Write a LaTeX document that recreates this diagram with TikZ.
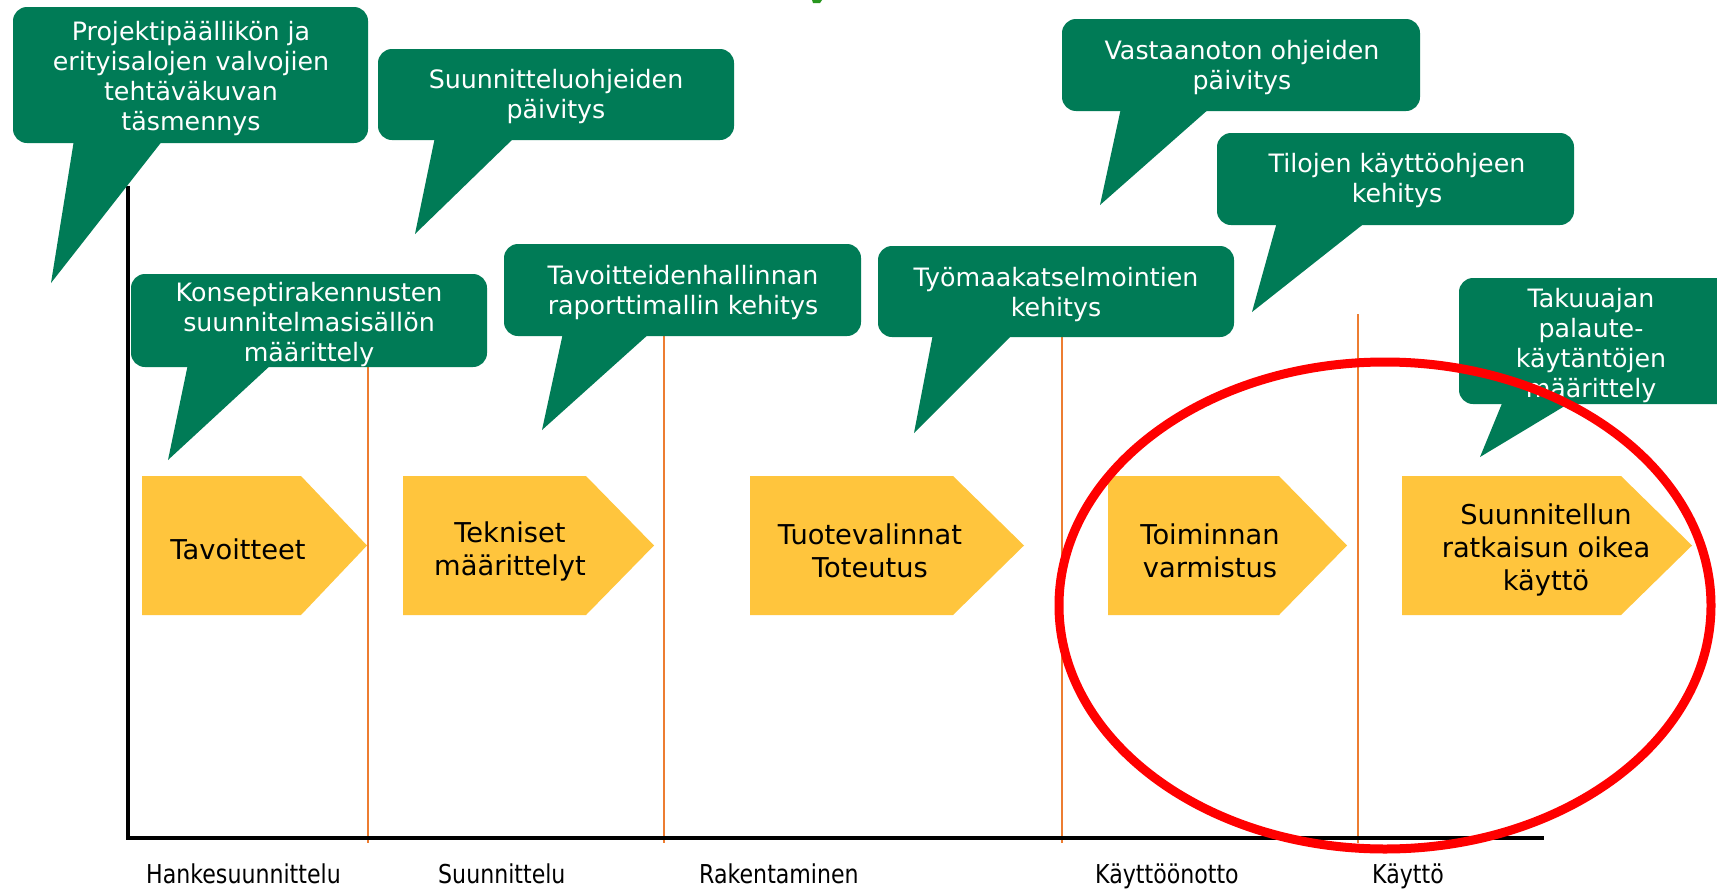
\documentclass[tikz,border=0pt]{standalone}
\usepackage{fontspec}
\setmainfont{DejaVu Sans}
\newfontfamily\labelfont[FakeStretch=0.85]{DejaVu Sans}
\definecolor{cgreen}{RGB}{0,123,86}
\definecolor{cyellow}{RGB}{255,197,61}
\definecolor{corange}{RGB}{237,125,49}
\definecolor{cred}{RGB}{255,0,0}
\definecolor{cbright}{RGB}{40,150,30}
\begin{document}
\begin{tikzpicture}[x=1pt,y=-1pt,
  bubble/.style={fill=cgreen, rounded corners=14pt},
  tailfill/.style={fill=cgreen},
  ctext/.style={text=white, align=center, inner sep=0pt, font=\fontsize{25.3}{30}\selectfont},
  arrowbox/.style={fill=cyellow},
  atext/.style={text=black, align=center, inner sep=0pt, font=\fontsize{27.3}{33}\selectfont},
  phase/.style={draw=corange, line width=1.6pt},
  axis/.style={draw=black, line width=4.5pt, line join=miter},
  ring/.style={draw=cred, line width=9pt},
  lbl/.style={anchor=base west, inner sep=0pt, font=\labelfont\fontsize{26}{30}\selectfont},
]
\useasboundingbox (0,0) rectangle (1717,889);
\fill[white] (0,0) rectangle (1717,889);
\fill[cbright] (812,0) -- (822,0) -- (820,3) -- (813,3) -- cycle;

% phase separators
\coordinate (t1) at (368,360); \coordinate (b1) at (368,843);
\coordinate (t2) at (664,330); \coordinate (b2) at (664,843);
\coordinate (t3) at (1062,330); \coordinate (b3) at (1062,843);
\coordinate (t4) at (1358,314); \coordinate (b4) at (1358,843);
\draw[phase] (t1) -- (b1);
\draw[phase] (t2) -- (b2);
\draw[phase] (t3) -- (b3);
\draw[phase] (t4) -- (b4);

% axes
\coordinate (ytop) at (128,186);
\coordinate (origin) at (128,838);
\coordinate (xend) at (1544,838);
\draw[axis] (ytop) -- (origin) -- (xend);

% pentagons
\fill[arrowbox] (142,476) -- (301,476) -- (367,545.5) -- (301,615) -- (142,615) -- cycle;
\node[atext] (p1) at (238,549) {Tavoitteet};
\fill[arrowbox] (403,476) -- (586,476) -- (654,545.5) -- (586,615) -- (403,615) -- cycle;
\node[atext] (p2) at (510,551) {Tekniset\\määrittelyt};
\fill[arrowbox] (750,476) -- (953,476) -- (1024,545.5) -- (953,615) -- (750,615) -- cycle;
\node[atext] (p3) at (870,551) {Tuotevalinnat\\Toteutus};
\fill[arrowbox] (1108,476) -- (1279,476) -- (1347,545.5) -- (1279,615) -- (1108,615) -- cycle;
\node[atext] (p4) at (1210,551) {Toiminnan\\varmistus};
\fill[arrowbox] (1402,476) -- (1621,476) -- (1692,545.5) -- (1621,615) -- (1402,615) -- cycle;
\node[atext] (p5) at (1546,550) {Suunnitellun\\ratkaisun oikea\\käyttö};

% callouts
\fill[bubble] (13,7) rectangle (368,143);
\fill[tailfill] (74,140) -- (51,283) -- (163,140) -- cycle;
\node[ctext] (c1) at (191,79) {Projektipäällikön ja\\erityisalojen valvojien\\tehtäväkuvan\\täsmennys};

\fill[bubble] (378,49) rectangle (734,140);
\fill[tailfill] (435,137) -- (415,234) -- (515,137) -- cycle;
\node[ctext] (c2) at (556,97) {Suunnitteluohjeiden\\päivitys};

\fill[bubble] (131,274) rectangle (487,367);
\fill[tailfill] (188,364) -- (168,460) -- (272,364) -- cycle;
\node[ctext] (c3) at (309,325) {Konseptirakennusten\\suunnitelmasisällön\\määrittely};

\fill[bubble] (504,244) rectangle (861,336);
\fill[tailfill] (563,333) -- (542,430) -- (650,333) -- cycle;
\node[ctext] (c4) at (683,293) {Tavoitteidenhallinnan\\raporttimallin kehitys};

\fill[bubble] (878,246) rectangle (1234,337);
\fill[tailfill] (933,334) -- (914,433) -- (1013,334) -- cycle;
\node[ctext] (c5) at (1056,295) {Työmaakatselmointien\\kehitys};

\fill[bubble] (1062,19) rectangle (1420,111);
\fill[tailfill] (1121,108) -- (1100,205) -- (1210,108) -- cycle;
\node[ctext] (c6) at (1242,68) {Vastaanoton ohjeiden\\päivitys};

\fill[bubble] (1217,133) rectangle (1574,225);
\fill[tailfill] (1277,222) -- (1252,312) -- (1366,222) -- cycle;
\node[ctext] (c7) at (1397,181) {Tilojen käyttöohjeen\\kehitys};

\fill[bubble] (1459,278) rectangle (1740,404);
\fill[tailfill] (1503,401) -- (1480,457) -- (1573,401) -- cycle;
\node[ctext] (c8) at (1591,346) {Takuuajan\\palaute-\\käytäntöjen\\määrittely};

% phase labels
\node[lbl] (l1) at (146,883) {Hankesuunnittelu};
\node[lbl] (l2) at (438,883) {Suunnittelu};
\node[lbl] (l3) at (699,883) {Rakentaminen};
\node[lbl] (l4) at (1095,883) {Käyttöönotto};
\node[lbl] (l5) at (1372,883) {Käyttö};

% highlight ring
\node[draw=none, inner sep=0pt, minimum size=0pt] (ringc) at (1385,605.5) {};
\draw[ring] (ringc) ellipse [x radius=326, y radius=243.5];
\end{tikzpicture}
\end{document}
